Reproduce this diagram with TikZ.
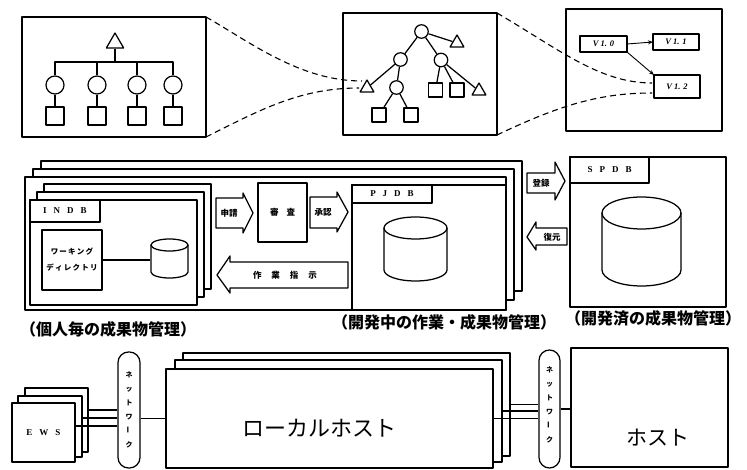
\documentclass[tikz,border=0pt]{standalone}
\usepackage{graphicx}
\usepackage{fontspec}
\newfontfamily\jp{Noto Sans CJK JP}
\newfontfamily\lsr{Liberation Serif}
\usetikzlibrary{arrows.meta,shapes.geometric}
\newcommand\myrect[7]{\node[#1, minimum width={(#4)-(#2)}, minimum height={(#5)-(#3)}] (#6) at ({((#2)+(#4))/2},{((#3)+(#5))/2}) {#7};}
\newcommand\mycyl[5]{%
  \draw (#1,#3) -- (#1,#4) arc[start angle=180,end angle=0,x radius={((#2)-(#1))/2},y radius=#5] -- (#2,#3);
  \draw ({((#1)+(#2))/2},#3) ellipse[x radius={((#2)-(#1))/2},y radius=#5];}
\begin{document}
\begin{tikzpicture}[x=1pt,y=-1pt, line width=1.25pt, line join=round,
  pg/.style={draw, fill=white, inner sep=0pt, outer sep=0pt},
  tri/.style={draw, regular polygon, regular polygon sides=3, inner sep=0pt, minimum size=#1},
  circ/.style={draw, circle, inner sep=0pt, minimum size=#1},
  sq/.style={draw, rectangle, inner sep=0pt, minimum size=#1},
  lbl/.style={font=\lsr\bfseries\fontsize{9}{10}\selectfont},
  vlbl/.style={font=\lsr\bfseries\itshape\fontsize{8.5}{10}\selectfont},
  jlbl/.style={font=\jp\bfseries\fontsize{8.5}{10}\selectfont, inner sep=0pt},
  captxt/.style={font=\jp\bfseries\fontsize{16}{18}\selectfont},
  vtxt/.style={font=\jp\bfseries\fontsize{7}{14}\selectfont, align=center},
  dsh/.style={dash pattern=on 6pt off 4pt, line width=1.1pt},
  blk/.style={draw, fill=white},
  pill/.style={draw, fill=white, rounded corners=10.5pt, inner sep=0pt},
]
\useasboundingbox (0,0) rectangle (747,470);

% ---------------- top row ----------------
\myrect{pg}{22}{17}{206}{137}{tl}{}
\node[tri=20] (ta) at (115,43) {};
\foreach \i/\x in {1/55,2/97,3/137,4/173}{
  \node[circ=18] (c\i) at (\x,85) {};
  \node[sq=18] (s\i) at (\x,116) {};
  \draw (c\i) -- (s\i);
}
\coordinate (bar) at (115,62);
\draw (ta.south) -- (bar);
\draw (c1.north) -- (c1.north |- bar) -- (c4.north |- bar) -- (c4.north);
\draw (c2.north) -- (c2.north |- bar);
\draw (c3.north) -- (c3.north |- bar);

\myrect{pg}{343}{13}{497}{135}{tm}{}
\node[circ=13.5] (rt) at (421.5,31.5) {};
\node[circ=13.5] (l1) at (400.5,59.5) {};
\node[circ=13.5] (r1) at (441,60) {};
\node[circ=13.5] (l2) at (396.5,87.5) {};
\node[tri=16] (trA) at (457,43) {};
\node[tri=16] (tL) at (367,88) {};
\node[tri=16] (tR) at (479,91) {};
\node[sq=14] (q1) at (379,115) {};
\node[sq=14] (q2) at (411,115) {};
\node[sq=14] (q3) at (435.5,90) {};
\node[sq=14] (q4) at (457,90) {};
\draw (rt) -- (trA);
\draw (rt) -- (l1);
\draw (rt) -- (r1);
\draw (l1) -- (tL);
\draw (l1) -- (l2);
\draw (l2) -- (q1);
\draw (l2) -- (q2);
\draw (r1) -- (q3);
\draw (r1) -- (q4);
\draw (r1) -- (tR);

\myrect{pg}{566}{9}{722}{131}{tr}{}
\myrect{pg,vlbl}{580}{36}{627}{52}{v10}{V 1. 0}
\myrect{pg,vlbl}{653}{34}{699}{50}{v11}{V 1. 1}
\myrect{pg,vlbl}{654}{75}{700}{98}{v12}{V 1. 2}
\draw[-{Stealth[length=5pt,width=4pt]}, line width=0.9pt] (v10.east) -- (v11.west);
\draw[-{Stealth[length=5pt,width=4pt]}, line width=0.9pt] (v10.south east) -- (v12.north west);

\coordinate (d1) at (362,81);
\coordinate (d2) at (359,88);
\coordinate (d3) at (652,83);
\coordinate (d4) at (652,93);
\draw[dsh] (tl.north east) .. controls (250,42) and (300,81) .. (d1);
\draw[dsh] (tl.south east) .. controls (260,110) and (300,88) .. (d2);
\draw[dsh] (tm.north east) .. controls (560,50) and (600,83) .. (d3);
\draw[dsh] (tm.south east) .. controls (560,105) and (600,93) .. (d4);

% ---------------- middle row ----------------
\myrect{pg}{41}{161}{522}{291}{bigc}{}
\myrect{pg}{33}{169}{514}{300}{bigb}{}
\myrect{pg}{25}{177}{506}{310}{biga}{}

\myrect{pg}{44}{184}{211}{289}{indc}{}
\myrect{pg}{37}{192}{204}{297}{indb}{}
\myrect{pg}{30}{200}{197}{305}{inda}{}
\myrect{pg,lbl}{30}{200}{100}{222}{indl}{I\hspace{7pt}N\hspace{7pt}D\hspace{7pt}B}
\myrect{pg}{42}{230}{102}{290}{wd}{}
\node[font=\jp\bfseries\fontsize{7.5}{16}\selectfont, align=center] (wdt) at (wd) {ワ\,ー\,キ\,ン\,グ\\デ\,ィ\,レ\,ク\,ト\,リ};
\node[inner sep=0pt, minimum width=37, minimum height=39] (icyl) at (169.5,258.5) {};
\mycyl{151}{188}{245}{272}{6}
\draw (wd.east) -- (wd.east -| icyl.west);

\draw[blk] (216,198) -- (243,198) -- (243,193) -- (253,213) -- (243,233) -- (243,228) -- (216,228) -- cycle;
\node[jlbl] (shinsei) at (229,213) {申請};
\myrect{pg,jlbl}{258}{183}{307}{242}{shinsa}{審\hspace{8pt}査}
\draw[blk] (310,197) -- (337,197) -- (337,192) -- (348,212) -- (337,232) -- (337,228) -- (310,228) -- cycle;
\node[jlbl] (shounin) at (323,212) {承認};
\draw[blk] (217,275) -- (230,256) -- (230,262) -- (348,262) -- (348,288) -- (230,288) -- (230,293) -- cycle;
\node[jlbl] (sagyou) at (285,275) {作\hspace{10pt}業\hspace{10pt}指\hspace{10pt}示};

\myrect{pg}{352}{185}{506}{310}{pj}{}
\myrect{pg,lbl}{352}{185}{432}{203}{pjl}{P\hspace{7pt}J\hspace{7pt}D\hspace{7pt}B}
\mycyl{384}{447}{228}{270}{11}

\draw[blk] (527,173) -- (555,173) -- (555,162) -- (565,181) -- (555,200) -- (555,193) -- (527,193) -- cycle;
\node[jlbl] (touroku) at (541,183) {登録};
\draw[blk] (527,237) -- (536,222) -- (536,228) -- (567,228) -- (567,245) -- (536,245) -- (536,250) -- cycle;
\node[jlbl] (fukugen) at (552,237) {復元};

\myrect{pg}{570}{157}{726}{307}{sp}{}
\myrect{pg,lbl}{570}{157}{649}{183}{spl}{S\hspace{7pt}P\hspace{7pt}D\hspace{7pt}B}
\mycyl{602}{681}{213}{270}{16}

\node[captxt] (cap1) at (108,329) {（個人毎の成果物管理）};
\node[captxt] (cap2) at (444,322) {（開発中の作業・成果物管理）};
\node[captxt] (cap3) at (653,318) {（開発済の成果物管理）};

% ---------------- bottom row ----------------
\myrect{pg}{25}{388}{88}{452}{ewsc}{}
\myrect{pg}{18}{396}{82}{457}{ewsb}{}
\myrect{pg,lbl}{12}{403}{75}{462}{ewsa}{E\hspace{7pt}W\hspace{7pt}S}

\node[pill, minimum width=22, minimum height=116] (net1) at (129,410) {};
\node[vtxt] (net1t) at (net1) {ネ\\ッ\\ト\\ワ\\\rotatebox{90}{ー}\\ク};

\draw ([yshift=10pt]ewsc.east) -- ([yshift=10pt]ewsc.east -| net1.west);
\draw ([yshift=8.5pt]ewsb.east) -- ([yshift=8.5pt]ewsb.east -| net1.west);
\draw ([yshift=6.5pt]ewsa.east) -- ([yshift=6.5pt]ewsa.east -| net1.west);

\myrect{pg}{183}{353}{510}{456}{lhc}{}
\myrect{pg}{175}{360}{502}{462}{lhb}{}
\myrect{pg}{166}{369}{493}{468}{lha}{}
\node[font=\jp\fontsize{22}{24}\selectfont] (lht) at (319,428) {ローカルホスト};
\draw (net1.east |- lha.west) -- (lha.west);

\node[pill, minimum width=21, minimum height=118] (net2) at (549.5,409) {};
\node[vtxt] (net2t) at (549.5,405) {ネ\\ッ\\ト\\ワ\\\rotatebox{90}{ー}\\ク};
\draw (lhc.east) -- (lhc.east -| net2.west);
\draw (lhb.east) -- (lhb.east -| net2.west);
\draw (lha.east) -- (lha.east -| net2.west);

\myrect{pg}{571}{348}{728}{467}{host}{}
\node[font=\jp\fontsize{21}{24}\selectfont] (hostt) at (658,438) {ホスト};
\draw (net2.east) -- (net2.east -| host.west);
\end{tikzpicture}
\end{document}
